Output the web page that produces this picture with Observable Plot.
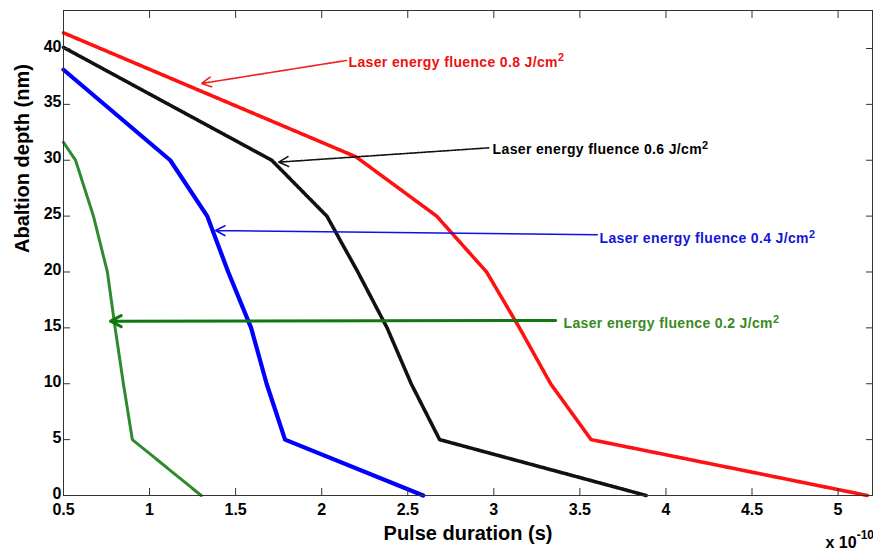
<!DOCTYPE html>
<html><head><meta charset="utf-8">
<script src="https://cdn.jsdelivr.net/npm/d3@7"></script>
<script src="https://cdn.jsdelivr.net/npm/@observablehq/plot@0.6"></script>
<style>
body{margin:0;background:#fff}
#chart svg{display:block}
</style>
</head><body><div id="chart"></div>
<script>
// ---- data (pulse duration in units of 1e-10 s, ablation depth in nm) ----
const xTicks = [0.5, 1, 1.5, 2, 2.5, 3, 3.5, 4, 4.5, 5];
const yTicks = [0, 5, 10, 15, 20, 25, 30, 35, 40];
const fluences = ["0.2", "0.4", "0.6", "0.8"];
const pulse02 = [0.5, 0.57, 0.674, 0.755, 0.80, 0.848, 0.90, 1.30];
const depth02 = [31.6, 30, 25, 20, 15, 10, 5, 0];
const pulse04 = [0.5, 1.12, 1.335, 1.457, 1.59, 1.68, 1.787, 2.59];
const depth04 = [38.1, 30, 25, 20, 15, 10, 5, 0];
const pulse06 = [0.5, 1.71, 2.03, 2.21, 2.38, 2.52, 2.685, 3.885];
const depth06 = [40.1, 30, 25, 20, 15, 10, 5, 0];
const pulse08 = [0.5, 2.2, 2.668, 2.958, 3.149, 3.33, 3.565, 5.17];
const depth08 = [41.4, 30.3, 25, 20, 15, 10, 5, 0];

// ---- annotations ----
const annotLabels = ["Laser energy fluence 0.8 J/cm", "Laser energy fluence 0.6 J/cm",
                     "Laser energy fluence 0.4 J/cm", "Laser energy fluence 0.2 J/cm"];
const annotTextX = [2.156, 2.993, 3.614, 3.405];
const annotTextY = [38.75, 30.96, 23.0, 15.39];
const arrowFromX = [2.144, 2.970, 3.601, 3.359];
const arrowFromY = [38.93, 31.11, 23.33, 15.66];
const arrowToX = [1.302, 1.751, 1.383, 0.773];
const arrowToY = [36.87, 29.83, 23.71, 15.60];

const xLabel = "Pulse duration (s)";
const yLabel = "Abaltion depth (nm)";
const xExponent = ["x 10", "-10"];

// ---- styles ----
const lineColor = {"0.2": "#2e8a2e", "0.4": "#0000ff", "0.6": "#111111", "0.8": "#ff1111"};
const textColor = ["#ee1111", "#000000", "#1515d8", "#3a8a22"];
const arrowColor = ["#ee2020", "#111111", "#1010e8", "#117711"];
const arrowWidth = [1.6, 1.6, 1.6, 3];
const arrowHead = [10, 10, 10, 6];
const arrowDash = ["2,1", "2,1", null, null];
const lineStyle = {
  "0.2": {strokeWidth: 3, dash: "2,0.8"},
  "0.4": {strokeWidth: 4.2, dash: null},
  "0.6": {strokeWidth: 3.6, dash: "1.4,0.9"},
  "0.8": {strokeWidth: 3.6, dash: "1.4,1"}
};

const seriesData = {
  "0.2": pulse02.map((p, i) => ({pulse: p, depth: depth02[i]})),
  "0.4": pulse04.map((p, i) => ({pulse: p, depth: depth04[i]})),
  "0.6": pulse06.map((p, i) => ({pulse: p, depth: depth06[i]})),
  "0.8": pulse08.map((p, i) => ({pulse: p, depth: depth08[i]}))
};
const annots = annotLabels.map((t, i) => ({
  text: t, tx: annotTextX[i], ty: annotTextY[i],
  x1: arrowFromX[i], y1: arrowFromY[i], x2: arrowToX[i], y2: arrowToY[i], i
}));

const axisStroke = "#333";
const marks = [];
for (const f of fluences) {
  marks.push(Plot.line(seriesData[f], {
    x: "pulse", y: "depth", stroke: lineColor[f],
    strokeWidth: lineStyle[f].strokeWidth,
    strokeDasharray: lineStyle[f].dash,
    strokeLinejoin: "round"
  }));
}
annots.forEach((a, i) => {
  marks.push(Plot.arrow([a], {
    x1: "x1", y1: "y1", x2: "x2", y2: "y2",
    stroke: arrowColor[i], strokeWidth: arrowWidth[i],
    strokeDasharray: arrowDash[i], headLength: arrowHead[i], headAngle: 55
  }));
  marks.push(Plot.text([a], {
    x: "tx", y: "ty", text: "text", textAnchor: "start", lineAnchor: "middle",
    fill: textColor[i], fontSize: 14, fontWeight: "bold"
  }));
});

const plot = Plot.plot({
  width: 873, height: 551,
  marginLeft: 63, marginRight: 1, marginTop: 10, marginBottom: 56,
  style: {fontFamily: "'Liberation Sans', Arial, sans-serif", fontSize: "16px", fontWeight: "bold", background: "#fff", overflow: "visible"},
  x: {domain: [0.5, 5.2]},
  y: {domain: [0, 43.4]},
  marks: [
    ...marks,
    Plot.frame({stroke: axisStroke}),
    Plot.axisX({anchor: "bottom", ticks: xTicks, tickSize: 0, tickPadding: 8, tickFormat: d => String(d), label: null, fontSize: 16}),
    Plot.axisX({anchor: "bottom", ticks: xTicks, tickSize: -7, fill: "none", stroke: axisStroke, label: null}),
    Plot.axisX({anchor: "top", ticks: xTicks, tickSize: -7, fill: "none", stroke: axisStroke, label: null}),
    Plot.axisY({anchor: "left", ticks: yTicks, tickSize: 0, tickPadding: 2, dy: -2, tickFormat: d => String(d), label: null, fontSize: 16}),
    Plot.axisY({anchor: "left", ticks: yTicks, tickSize: -7, fill: "none", stroke: axisStroke, label: null}),
    Plot.axisY({anchor: "right", ticks: yTicks, tickSize: -7, fill: "none", stroke: axisStroke, label: null}),
    Plot.text([xLabel], {frameAnchor: "bottom", dy: 38, text: d => d, fontSize: 20, fontWeight: "bold", lineAnchor: "middle"}),
    Plot.text([yLabel], {frameAnchor: "left", dx: -41, rotate: -90, text: d => d, fontSize: 20, fontWeight: "bold", lineAnchor: "middle"}),
    Plot.text([xExponent[0]], {frameAnchor: "bottom-right", dx: -47, dy: 47, text: d => d, textAnchor: "start", fontSize: 16, fontWeight: "bold", lineAnchor: "middle"})
  ]
});
document.getElementById("chart").appendChild(plot);

// superscripts
d3.select(plot).selectAll("text").filter(function() { return this.textContent.endsWith("J/cm"); })
  .attr("letter-spacing", "0.35px")
  .append("tspan").attr("dy", "-0.5em").attr("font-size", "0.78em").text("2");
d3.select(plot).selectAll("text").filter(function() { return this.textContent === xExponent[0]; })
  .append("tspan").attr("dy", "-0.7em").attr("font-size", "0.75em").text(xExponent[1]);
</script>
</body></html>
